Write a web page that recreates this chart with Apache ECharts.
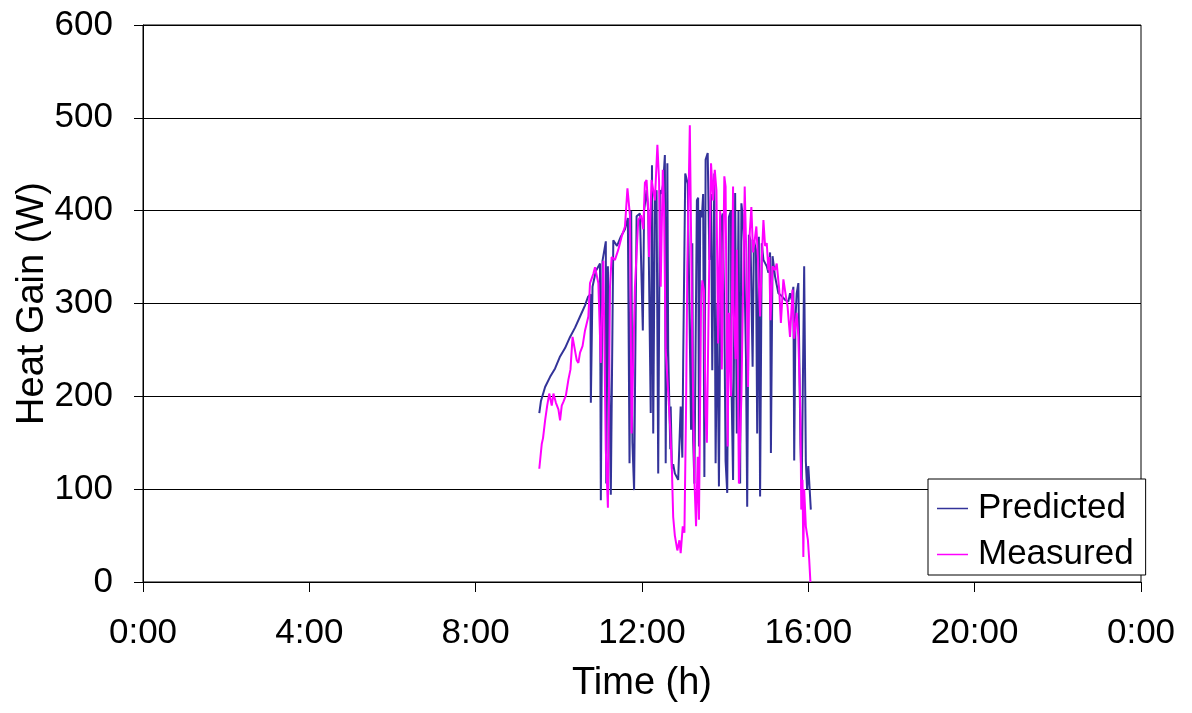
<!DOCTYPE html>
<html>
<head>
<meta charset="utf-8">
<script src="https://cdn.jsdelivr.net/npm/echarts@6/dist/echarts.min.js"></script>
<style>
html,body{margin:0;padding:0;background:#fff;}
#chart{width:1192px;height:713px;}
</style>
</head>
<body>
<div id="chart"></div>
<script>
// Time in hours, heat gain in W
const xTickLabels = ['0:00','4:00','8:00','12:00','16:00','20:00','0:00'];
const yTicks = [0,100,200,300,400,500,600];

const predictedTime = [9.53,9.57,9.67,9.79,9.91,10.03,10.15,10.27,10.39,10.51,10.63,10.70,10.76,10.77,10.81,10.89,10.99,11.01,11.05,11.13,11.14,11.18,11.25,11.31,11.40,11.49,11.59,11.66,11.70,11.74,11.77,11.81,11.87,11.95,12.02,12.05,12.11,12.15,12.21,12.24,12.27,12.31,12.35,12.39,12.43,12.47,12.51,12.55,12.57,12.61,12.63,12.68,12.69,12.72,12.75,12.79,12.83,12.87,12.91,12.93,12.97,12.99,13.04,13.10,13.18,13.21,13.23,13.26,13.32,13.35,13.37,13.40,13.44,13.47,13.50,13.53,13.58,13.62,13.66,13.69,13.74,13.77,13.81,13.85,13.90,13.94,13.98,14.01,14.05,14.09,14.14,14.15,14.19,14.24,14.28,14.32,14.36,14.39,14.42,14.45,14.50,14.53,14.57,14.61,14.66,14.69,14.74,14.77,14.81,14.84,14.88,14.92,15.00,15.04,15.08,15.10,15.14,15.20,15.28,15.36,15.44,15.52,15.56,15.60,15.64,15.66,15.69,15.72,15.76,15.81,15.84,15.90,15.94,15.97,16.00,16.06];
const predictedHeat = [182,195,210,221,230,243,252,264,274,286,298,307,310,193,318,335,343,88,346,367,106,340,94,368,362,372,380,392,128,400,150,99,394,397,271,400,422,400,182,449,160,411,422,117,422,418,429,460,128,451,250,143,189,122,127,117,118,110,112,189,134,236,440,429,164,365,153,106,411,414,146,400,393,418,113,455,462,347,418,228,440,128,300,103,390,397,289,130,96,393,400,218,110,419,160,400,106,408,395,367,242,81,374,368,232,368,358,160,372,92,365,347,340,333,355,139,351,329,311,308,304,302,311,304,318,131,283,311,322,149,100,340,130,100,125,78];

const measuredTime = [9.53,9.59,9.62,9.67,9.72,9.77,9.83,9.87,9.93,9.99,10.03,10.07,10.11,10.17,10.23,10.28,10.33,10.37,10.43,10.47,10.51,10.57,10.63,10.71,10.75,10.83,10.87,10.91,10.95,11.01,11.07,11.13,11.18,11.23,11.27,11.35,11.43,11.51,11.59,11.65,11.71,11.75,11.83,11.91,11.98,12.03,12.07,12.11,12.15,12.17,12.23,12.31,12.37,12.41,12.45,12.50,12.53,12.57,12.63,12.68,12.72,12.75,12.79,12.85,12.90,12.93,12.98,13.02,13.06,13.09,13.15,13.21,13.26,13.30,13.34,13.37,13.42,13.45,13.49,13.53,13.56,13.62,13.66,13.71,13.75,13.79,13.83,13.88,13.92,13.98,14.01,14.06,14.09,14.14,14.19,14.20,14.25,14.28,14.33,14.39,14.47,14.51,14.55,14.59,14.63,14.67,14.71,14.75,14.79,14.84,14.88,14.92,14.96,15.00,15.04,15.06,15.09,15.14,15.20,15.24,15.30,15.34,15.40,15.45,15.50,15.56,15.62,15.66,15.72,15.76,15.81,15.83,15.86,15.88,15.90,15.94,15.99,16.02,16.05];
const measuredHeat = [122,149,155,174,190,203,190,203,193,186,174,190,194,201,218,229,264,264,239,236,247,254,271,286,322,332,339,340,322,236,346,142,80,318,350,347,358,372,383,424,395,160,318,390,395,380,430,433,400,350,433,411,471,433,318,444,404,250,204,164,120,70,50,34,45,31,60,53,189,340,492,257,110,60,135,67,300,325,314,180,150,354,451,411,444,422,257,400,229,437,426,146,290,200,426,300,240,358,106,200,426,350,210,375,404,355,368,383,347,286,347,390,362,365,336,350,282,340,336,343,315,279,326,311,297,264,315,262,290,264,180,78,110,27,100,60,45,25,0];

const pairs = (t, v) => t.map((x, i) => [x, v[i]]);
const font = 'Liberation Sans, Arial, sans-serif';

const chart = echarts.init(document.getElementById('chart'), null, {renderer: 'canvas'});
chart.setOption({
  animation: false,
  backgroundColor: '#fff',
  grid: {left: 143, right: 51, top: 25, bottom: 131, containLabel: false, outerBoundsMode: 'none',
         show: true, borderColor: '#000', borderWidth: 1},
  legend: {
    orient: 'vertical',
    left: 928, top: 479,
    padding: [12, 12, 3, 9],
    itemGap: 11,
    itemWidth: 31, itemHeight: 1.5,
    icon: 'rect',
    backgroundColor: '#fff',
    borderColor: '#000', borderWidth: 1,
    textStyle: {fontFamily: font, fontSize: 35, color: '#000', padding: [0,0,0,5], lineHeight: 35},
    data: ['Predicted', 'Measured']
  },
  xAxis: {
    type: 'value', min: 0, max: 24, interval: 4,
    name: 'Time (h)', nameLocation: 'middle', nameGap: 83, nameMoveOverlap: false,
    nameTextStyle: {fontFamily: font, fontSize: 38, color: '#000'},
    axisLine: {lineStyle: {color: '#000', width: 1}},
    axisTick: {show: true, length: 10, lineStyle: {color: '#000'}},
    axisLabel: {fontFamily: font, fontSize: 35, color: '#000', margin: 34,
      formatter: v => xTickLabels[Math.round(v / 4)]},
    splitLine: {show: false}
  },
  yAxis: {
    type: 'value', min: yTicks[0], max: yTicks[yTicks.length - 1], interval: 100,
    name: 'Heat Gain (W)', nameLocation: 'middle', nameGap: 91, nameMoveOverlap: false,
    nameTextStyle: {fontFamily: font, fontSize: 38, color: '#000'},
    axisLine: {show: true, lineStyle: {color: '#000', width: 1}},
    axisTick: {show: true, length: 9, lineStyle: {color: '#000'}},
    axisLabel: {fontFamily: font, fontSize: 35, color: '#000', margin: 30},
    splitLine: {show: true, lineStyle: {color: '#000', width: 1}}
  },
  series: [
    {name: 'Predicted', type: 'line', data: pairs(predictedTime, predictedHeat),
     showSymbol: false, symbol: 'none', color: '#333399', lineStyle: {color: '#333399', width: 2}},
    {name: 'Measured', type: 'line', data: pairs(measuredTime, measuredHeat),
     showSymbol: false, symbol: 'none', color: '#FF00FF', lineStyle: {color: '#FF00FF', width: 2}}
  ]
});
</script>
</body>
</html>
